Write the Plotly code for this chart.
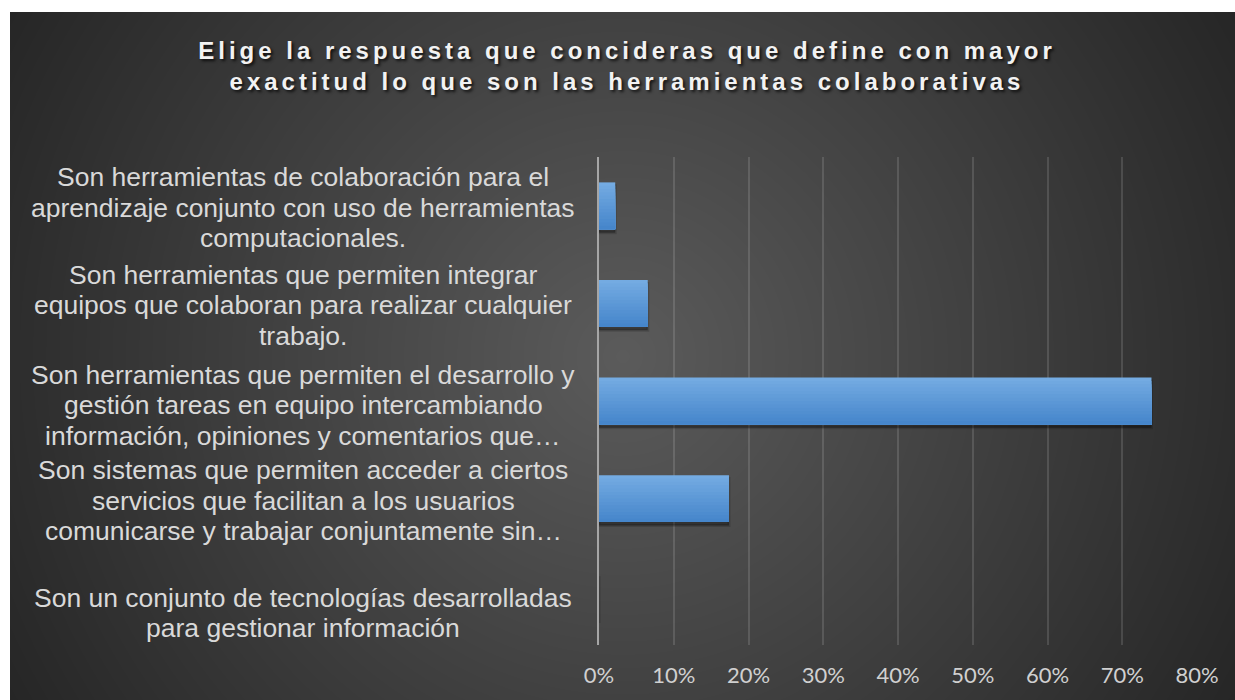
import base64
import struct
import zlib

import numpy as np
import plotly.graph_objects as go

# ---------------- data ----------------
title_lines = [
    "Elige la respuesta que concideras que define con mayor",
    "exactitud lo que son las herramientas colaborativas",
]
label_lines = [
    ["Son herramientas de colaboración para el",
     "aprendizaje conjunto con uso de herramientas",
     "computacionales."],
    ["Son herramientas que permiten integrar",
     "equipos que colaboran para realizar cualquier",
     "trabajo."],
    ["Son herramientas que permiten el desarrollo y",
     "gestión tareas en equipo intercambiando",
     "información, opiniones y comentarios que…"],
    ["Son sistemas que permiten acceder a ciertos",
     "servicios que facilitan a los usuarios",
     "comunicarse y trabajar conjuntamente sin…"],
    ["Son un conjunto de tecnologías desarrolladas",
     "para gestionar información"],
]
categories = ["<br>".join(l) for l in label_lines]
values = [0.0217, 0.0652, 0.7391, 0.1739, 0.0]
tick_vals = [0.0, 0.1, 0.2, 0.3, 0.4, 0.5, 0.6, 0.7, 0.8]
tick_text = ["0%", "10%", "20%", "30%", "40%", "50%", "60%", "70%", "80%"]

# ---------------- geometry / style ----------------
# page body margin is removed (see post_script), so figure pixels == screen pixels
W, H = 1235, 700
ML, MR, MT, MB = 599, 38, 157, 55
PW, PH = W - ML - MR, H - MT - MB
BOX_X0, BOX_Y0 = 10, 12  # dark chart area starts here (white margin outside)

# radial gradient background as PNG data URI
bw, bh = W - BOX_X0, H - BOX_Y0
yy, xx = np.mgrid[0:bh, 0:bw].astype(float)
cx, cy = bw / 2.0, bh / 2.0
d = np.sqrt((xx - cx) ** 2 + (yy - cy) ** 2)
t = np.clip(d / np.sqrt(cx ** 2 + cy ** 2), 0, 1)
c_center, c_edge = 91.0, 38.0
img = (c_center + (c_edge - c_center) * t).round().astype(np.uint8)


def png_gray(arr):
    h, w = arr.shape
    raw = b"".join(b"\x00" + arr[i].tobytes() for i in range(h))

    def chunk(tag, data):
        return (struct.pack(">I", len(data)) + tag + data
                + struct.pack(">I", zlib.crc32(tag + data) & 0xFFFFFFFF))

    ihdr = struct.pack(">IIBBBBB", w, h, 8, 0, 0, 0, 0)
    return (b"\x89PNG\r\n\x1a\n" + chunk(b"IHDR", ihdr)
            + chunk(b"IDAT", zlib.compress(raw, 9)) + chunk(b"IEND", b""))


bg_uri = "data:image/png;base64," + base64.b64encode(png_gray(img)).decode()

fig = go.Figure()

bar_width = 0.48
# soft shadow
fig.add_trace(go.Bar(
    y=categories, x=values, orientation="h",
    width=bar_width, offset=-bar_width / 2 + 0.035,
    marker=dict(color="rgba(0,0,0,0.35)", line=dict(width=3, color="rgba(0,0,0,0.15)")),
    hoverinfo="skip", showlegend=False,
))
# vertical gradient of the bar: each band runs from its top down to the bar bottom
top_rgb, bot_rgb = (0x74, 0xAB, 0xE2), (0x46, 0x86, 0xCB)
nb = 14
step = bar_width / nb
for i in range(nb):
    f = i / (nb - 1)
    col = "rgb({},{},{})".format(*[round(a + (b - a) * f) for a, b in zip(top_rgb, bot_rgb)])
    fig.add_trace(go.Bar(
        y=categories, x=values, orientation="h",
        width=bar_width - i * step,
        offset=-bar_width / 2 + i * step,
        marker=dict(color=col, line=dict(width=0)),
        hoverinfo="skip" if i else "x+y", showlegend=False,
    ))

# category labels (centered lines, like the original)
label_font = dict(family="Liberation Sans, Arial, sans-serif", size=26.5, color="#d9d9d9")
label_x = (303 - ML) / PW
line_gap = 30.5
label_extra = [-2, -2, -4, -2, -17]
annotations = []
for cat, lines, extra in zip(categories, label_lines, label_extra):
    n = len(lines)
    for i, line in enumerate(lines):
        annotations.append(dict(
            text=line, xref="paper", yref="y", x=label_x, y=cat,
            xanchor="center", yanchor="middle", showarrow=False,
            yshift=-(i - (n - 1) / 2) * line_gap + extra,
            font=label_font,
        ))

spaced = "<br>".join(f"<span style='letter-spacing:4px'>{l}</span>" for l in title_lines)

fig.update_layout(
    width=W, height=H,
    paper_bgcolor="white", plot_bgcolor="rgba(0,0,0,0)",
    margin=dict(l=ML, r=MR, t=MT, b=MB, pad=0),
    barmode="overlay", bargap=0.52,
    title=dict(
        text=f"<b>{spaced}</b>",
        xref="container", yref="container",
        x=627 / W, y=1 - 59 / H, xanchor="center", yanchor="middle",
        font=dict(family="Liberation Sans, Arial, sans-serif", size=24, color="#f2f2f2",
                  shadow="2px 2px 3px rgba(0,0,0,0.75)"),
    ),
    xaxis=dict(
        range=[0, 0.8], tickvals=tick_vals, ticktext=tick_text,
        showgrid=True, gridcolor="rgba(255,255,255,0.13)", gridwidth=1.5,
        zeroline=False, showline=False, ticks="",
        tickfont=dict(family="Lato, Open Sans, sans-serif", size=22, color="#d0d0d0"),
        ticklabelstandoff=15, fixedrange=True,
    ),
    yaxis=dict(
        type="category", categoryorder="array", categoryarray=categories,
        range=[len(categories) - 0.5, -0.5],
        showticklabels=False, showgrid=False, zeroline=False,
        showline=True, linecolor="#a6a6a6", linewidth=2.2, ticks="",
        fixedrange=True,
    ),
    images=[dict(
        source=bg_uri, xref="paper", yref="paper",
        x=(BOX_X0 - ML) / PW, y=(H - MB - BOX_Y0) / PH,
        sizex=bw / PW, sizey=bh / PH,
        xanchor="left", yanchor="top", sizing="stretch", layer="below",
    )],
    annotations=annotations,
    showlegend=False,
)

fig.write_html(
    "out.html",
    config={"displayModeBar": False},
    post_script=(
        "document.body.style.margin='0';"
        "document.documentElement.style.overflow='hidden';"
        "document.body.style.overflow='hidden';"
        "document.documentElement.style.background='#2a2a2a';"
    ),
)
